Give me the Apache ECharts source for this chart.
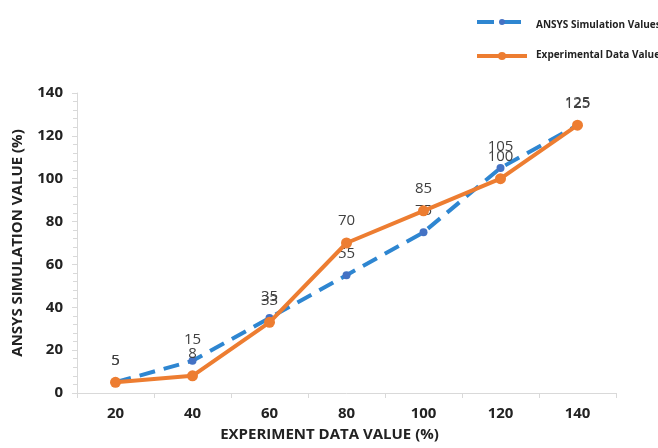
<!DOCTYPE html>
<html>
<head>
<meta charset="utf-8">
<script src="https://cdn.jsdelivr.net/npm/echarts@6/dist/echarts.min.js"></script>
<style>
  html, body { margin: 0; padding: 0; background: #fff; }
  #chart { width: 658px; height: 448px; }
</style>
</head>
<body>
<div id="chart"></div>
<script>
// Experiment data values (%) along the x axis
const categories = ['20', '40', '60', '80', '100', '120', '140'];
// Simulated values from ANSYS
const ansysValues = [5, 15, 35, 55, 75, 105, 125];
// Measured experimental values
const experimentalValues = [5, 8, 33, 70, 85, 100, 125];

const axisGray = '#d9d9d9';
const labelFont = { fontFamily: 'Open Sans', fontSize: 15, color: '#404040' };
const boldFont = { fontFamily: 'Open Sans', fontSize: 15, fontWeight: 'bold', color: '#222' };

const chart = echarts.init(document.getElementById('chart'));
chart.setOption({
  animation: false,
  backgroundColor: '#fff',
  grid: { left: 77, right: 42, top: 93, bottom: 55, containLabel: false },
  legend: {
    orient: 'vertical',
    left: 476,
    top: 14,
    itemGap: 19,
    itemWidth: 50,
    itemHeight: 12,
    textStyle: { fontFamily: 'Open Sans', fontSize: 10, fontWeight: 'bold', color: '#222' },
    data: [
      { name: 'ANSYS Simulation Values', icon: 'none' },
      { name: 'Experimental Data Values', icon: 'none' }
    ]
  },
  xAxis: {
    type: 'category',
    data: categories,
    boundaryGap: true,
    name: 'EXPERIMENT DATA VALUE (%)',
    nameLocation: 'middle',
    nameGap: 34,
    nameTextStyle: Object.assign({ padding: [0, 34, 0, 0] }, boldFont),
    axisLine: { lineStyle: { color: axisGray, width: 1 } },
    axisTick: { show: true, length: 5, lineStyle: { color: axisGray } },
    axisLabel: Object.assign({ margin: 13 }, boldFont),
    splitLine: { show: false }
  },
  yAxis: {
    type: 'value',
    min: 0,
    max: 140,
    interval: 20,
    name: 'ANSYS SIMULATION VALUE (%)',
    nameLocation: 'middle',
    nameGap: 52,
    nameTextStyle: boldFont,
    axisLine: { show: true, lineStyle: { color: axisGray, width: 1 } },
    axisTick: { show: true, length: 5, lineStyle: { color: axisGray } },
    minorTick: { show: true, splitNumber: 5, length: 4, lineStyle: { color: axisGray } },
    axisLabel: Object.assign({ margin: 14 }, boldFont),
    splitLine: { show: false }
  },
  series: [
    {
      name: 'ANSYS Simulation Values',
      type: 'line',
      data: ansysValues,
      symbol: 'circle',
      symbolSize: 8,
      itemStyle: { color: '#4472C4' },
      lineStyle: { color: '#2E86D1', width: 4, type: [16, 9] },
      label: Object.assign({ show: true, position: 'top', distance: 10 }, labelFont),
      z: 2
    },
    {
      name: 'Experimental Data Values',
      type: 'line',
      data: experimentalValues,
      symbol: 'circle',
      symbolSize: 11,
      itemStyle: { color: '#ED7D31' },
      lineStyle: { color: '#ED7D31', width: 4 },
      label: Object.assign({ show: true, position: 'top', distance: 9 }, labelFont),
      z: 3
    }
  ],
  graphic: [
    // legend keys drawn as line samples
    { type: 'line', shape: { x1: 477, y1: 22, x2: 494, y2: 22 }, style: { stroke: '#2E86D1', lineWidth: 4 } },
    { type: 'line', shape: { x1: 502, y1: 22, x2: 521, y2: 22 }, style: { stroke: '#2E86D1', lineWidth: 4 } },
    { type: 'circle', shape: { cx: 502, cy: 22, r: 3 }, style: { fill: '#4472C4' } },
    { type: 'line', shape: { x1: 477, y1: 56, x2: 527, y2: 56 }, style: { stroke: '#ED7D31', lineWidth: 4 } },
    { type: 'circle', shape: { cx: 502, cy: 56, r: 4 }, style: { fill: '#ED7D31' } }
  ]
});
</script>
</body>
</html>
